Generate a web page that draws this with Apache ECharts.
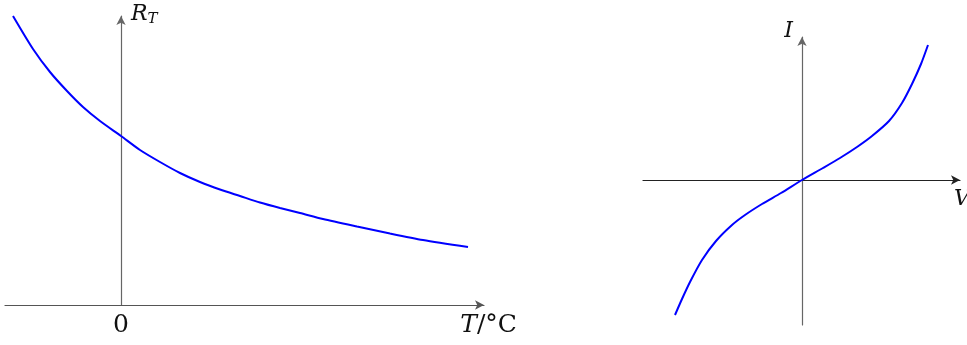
<!DOCTYPE html>
<html>
<head>
<meta charset="utf-8">
<script src="https://cdn.jsdelivr.net/npm/echarts@6/dist/echarts.min.js"></script>
<style>
  html, body { margin: 0; padding: 0; background: #fff; }
  #chart { width: 967px; height: 345px; }
</style>
</head>
<body>
<div id="chart"></div>
<script>
// Thermistor resistance R_T against temperature T (°C)
const thermT = [-1.08, -0.88, -0.71, -0.54, -0.38, -0.21, 0, 0.19, 0.39, 0.59, 0.79, 0.99, 1.19, 1.39, 1.59, 1.79, 2.02, 2.36, 2.69, 3.02, 3.47];
const thermR = [2.89, 2.56, 2.33, 2.14, 1.98, 1.84, 1.69, 1.55, 1.43, 1.32, 1.23, 1.155, 1.09, 1.025, 0.97, 0.92, 0.86, 0.785, 0.715, 0.65, 0.58];

// Current I against voltage V
const ivV = [-1.27, -1.20, -1.12, -1.00, -0.86, -0.70, -0.57, -0.40, -0.21, 0, 0.21, 0.38, 0.55, 0.70, 0.87, 1.00, 1.10, 1.19, 1.26];
const ivI = [-1.35, -1.19, -1.02, -0.80, -0.61, -0.45, -0.35, -0.24, -0.13, 0, 0.12, 0.22, 0.33, 0.44, 0.59, 0.77, 0.96, 1.16, 1.35];

// Tick labels on the temperature axis
const tempTicks = [0];

const pair = (xs, ys) => xs.map((x, i) => [x, ys[i]]);

const serif = 'DejaVu Serif';
const ink = '#111111';
const blue = '#0000ff';

function axisLine(color) {
  return {
    show: true,
    onZero: true,
    symbol: ['none', 'arrow'],
    symbolSize: [7, 9],
    lineStyle: { color: color, width: 1.2 }
  };
}

const chart = echarts.init(document.getElementById('chart'), null, { renderer: 'canvas' });

chart.setOption({
  animation: false,
  backgroundColor: '#ffffff',
  grid: [
    { left: 5, top: 16, width: 479, height: 289, containLabel: false, outerBoundsMode: 'none' },
    { left: 643, top: 37, width: 317, height: 288, containLabel: false, outerBoundsMode: 'none' }
  ],
  xAxis: [
    {
      gridIndex: 0, type: 'value', min: -1.16, max: 3.63,
      axisLine: axisLine('#555555'),
      axisTick: { show: false },
      splitLine: { show: false },
      axisLabel: {
        customValues: tempTicks,
        fontFamily: serif, fontSize: 25, color: ink, margin: 8
      },
      name: '{i|T}/°C',
      nameLocation: 'end',
      nameGap: 33,
      nameTextStyle: {
        fontFamily: serif, fontSize: 25, color: ink,
        align: 'right', verticalAlign: 'top', padding: [8, 0, 0, 0],
        rich: { i: { fontFamily: serif, fontStyle: 'italic', fontSize: 25, color: ink } }
      }
    },
    {
      gridIndex: 1, type: 'value', min: -1.59, max: 1.58,
      axisLine: axisLine('#222222'),
      axisTick: { show: false },
      splitLine: { show: false },
      axisLabel: { show: false },
      name: 'V',
      nameLocation: 'end',
      nameGap: -6,
      nameTextStyle: {
        fontFamily: serif, fontStyle: 'italic', fontSize: 22, color: ink,
        align: 'left', verticalAlign: 'top', padding: [8, 0, 0, 0]
      }
    }
  ],
  yAxis: [
    {
      gridIndex: 0, type: 'value', min: 0, max: 2.89,
      axisLine: axisLine('#666666'),
      axisTick: { show: false },
      splitLine: { show: false },
      axisLabel: { show: false },
      name: '{r|R}{s|T}',
      nameLocation: 'end',
      nameGap: 2,
      nameTextStyle: {
        align: 'left', verticalAlign: 'middle', padding: [0, 0, 0, 10],
        rich: {
          r: { fontFamily: serif, fontStyle: 'italic', fontSize: 22, color: ink },
          s: { fontFamily: serif, fontStyle: 'italic', fontSize: 15, color: ink, padding: [10, 0, 0, 0] }
        }
      }
    },
    {
      gridIndex: 1, type: 'value', min: -1.45, max: 1.43,
      axisLine: axisLine('#666666'),
      axisTick: { show: false },
      splitLine: { show: false },
      axisLabel: { show: false },
      name: 'I',
      nameLocation: 'end',
      nameGap: 6,
      nameTextStyle: {
        fontFamily: serif, fontStyle: 'italic', fontSize: 22, color: ink,
        align: 'right', verticalAlign: 'middle', padding: [0, 9, 0, 0]
      }
    }
  ],
  series: [
    {
      type: 'line', xAxisIndex: 0, yAxisIndex: 0,
      data: pair(thermT, thermR),
      smooth: 0.25, showSymbol: false,
      lineStyle: { color: blue, width: 2 }
    },
    {
      type: 'line', xAxisIndex: 1, yAxisIndex: 1,
      data: pair(ivV, ivI),
      smooth: 0.25, showSymbol: false,
      lineStyle: { color: blue, width: 2 }
    }
  ]
});
</script>
</body>
</html>
